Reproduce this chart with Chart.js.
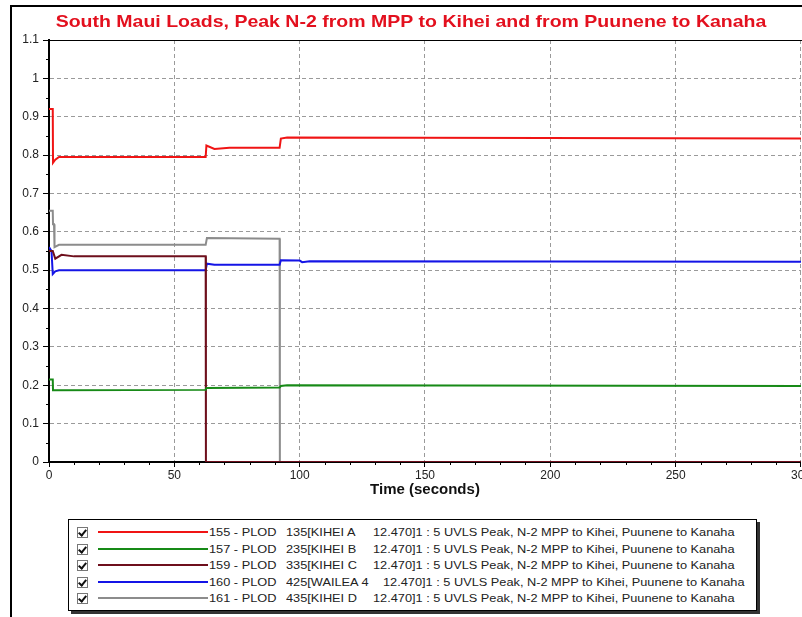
<!DOCTYPE html>
<html>
<head>
<meta charset="utf-8">
<title>South Maui Loads</title>
<script src="https://cdn.jsdelivr.net/npm/chart.js@4/dist/chart.umd.min.js"></script>
<style>
  html, body { margin: 0; padding: 0; background: #fff; overflow: hidden; width: 802px; height: 617px; }
  #frame { position: absolute; left: 10px; top: 5px; width: 900px; height: 700px;
           border-left: 2px solid #000; border-top: 2px solid #000; }
  #chart { position: absolute; left: 0; top: 0; }
  #legend { position: absolute; left: 68px; top: 519px; width: 687px; height: 86px;
            border: 1px solid #000; box-shadow: 3px 3px 0 #333; background: #fff;
            font: 11px "Liberation Sans", Arial, sans-serif; color: #222; padding-top: 4px; }
  .row { position: relative; height: 16.6px; line-height: 16.6px; white-space: pre; }
  .chk { position: absolute; left: 8px; top: 3px; width: 9px; height: 9px; border: 1px solid #777; background: #fff; }
  .chk::after { content: ""; position: absolute; left: 2px; top: 0px; width: 3px; height: 6px;
                border-right: 2px solid #111; border-bottom: 2px solid #111; transform: rotate(40deg); }
  .seg { position: absolute; left: 29px; top: 7px; width: 110px; height: 2px; }
  .c1, .c2, .c3 { position: absolute; transform: scaleX(1.16); transform-origin: 0 50%; }
  .c1 { left: 140px; }
  .c2 { left: 217px; }
  .c3 { left: 304px; }
</style>
</head>
<body>
<div id="frame"></div>
<canvas id="chart" width="812" height="500"></canvas>
<div id="legend"></div>
<script>
// Axis ticks
const xTicks = [0, 50, 100, 150, 200, 250, 300];
const yTicks = [0, 0.1, 0.2, 0.3, 0.4, 0.5, 0.6, 0.7, 0.8, 0.9, 1, 1.1];

// Series (time in seconds, load in p.u.)
const t155 = [0, 1.5, 1.6, 2.5, 4, 62.5, 62.8, 66, 72, 92, 92.5, 95, 300];
const v155 = [0.92, 0.92, 0.78, 0.788, 0.795, 0.795, 0.825, 0.816, 0.819, 0.819, 0.843, 0.846, 0.843];

const t157 = [0, 1.5, 1.6, 62.5, 62.8, 92, 92.5, 95, 300];
const v157 = [0.215, 0.215, 0.187, 0.188, 0.193, 0.194, 0.198, 0.2, 0.198];

const t159 = [0, 1.5, 2.5, 5, 10, 62.5, 62.6, 300];
const v159 = [0.55, 0.55, 0.53, 0.54, 0.536, 0.536, 0, 0];

const t160 = [0, 1, 1.5, 2.5, 4, 62.5, 63, 66, 92, 92.5, 100, 101, 104, 300];
const v160 = [0.56, 0.55, 0.49, 0.497, 0.5, 0.5, 0.517, 0.514, 0.514, 0.526, 0.525, 0.521, 0.523, 0.522];

const t161 = [0, 1.5, 1.6, 2, 2.2, 4, 62.5, 63, 92, 92.1, 300];
const v161 = [0.655, 0.655, 0.62, 0.62, 0.56, 0.566, 0.566, 0.584, 0.582, 0, 0];

const seriesIds = ['155 - PLOD', '157 - PLOD', '159 - PLOD', '160 - PLOD', '161 - PLOD'];
const seriesBuses = ['135[KIHEI A', '235[KIHEI B', '335[KIHEI C', '425[WAILEA 4', '435[KIHEI D'];
const seriesCase = '12.470]1 : 5 UVLS Peak, N-2 MPP to Kihei, Puunene to Kanaha';
const seriesColors = ['#f01414', '#178a17', '#6e0f1c', '#1414e6', '#8c8c8c'];
const seriesTimes = [t155, t157, t159, t160, t161];
const seriesValues = [v155, v157, v159, v160, v161];

const chartTitle = 'South Maui Loads, Peak N-2 from MPP to Kihei and from Puunene to Kanaha';

function toPoints(times, values) {
  return times.map((t, i) => ({ x: t, y: values[i] }));
}

// Title (slightly wide lettering), minor ticks, plot top border
const extrasPlugin = {
  id: 'extras',
  afterDraw(chart) {
    const ctx = chart.ctx;
    const area = chart.chartArea;
    const xs = chart.scales.x;
    const ys = chart.scales.y;
    ctx.save();
    ctx.fillStyle = '#e3101e';
    ctx.font = 'bold 17px "Liberation Sans", Arial, sans-serif';
    ctx.textAlign = 'center';
    ctx.textBaseline = 'middle';
    ctx.translate(411, 22);
    ctx.scale(1.147, 1);
    ctx.fillText(chartTitle, 0, 0);
    ctx.restore();

    ctx.save();
    ctx.strokeStyle = '#000';
    ctx.lineWidth = 1;
    ctx.beginPath();
    ctx.moveTo(area.left, area.top + 0.5);
    ctx.lineTo(area.right + 20, area.top + 0.5);
    for (let v = 10; v < 300; v += 10) {
      if (v % 50 === 0) continue;
      const px = Math.round(xs.getPixelForValue(v)) + 0.5;
      ctx.moveTo(px, area.bottom);
      ctx.lineTo(px, area.bottom + 3);
    }
    for (let k = 1; k < 22; k += 2) {
      const py = Math.round(ys.getPixelForValue(k * 0.05)) + 0.5;
      ctx.moveTo(area.left - 3, py);
      ctx.lineTo(area.left, py);
    }
    ctx.stroke();
    ctx.restore();
  }
};

const datasets = seriesIds.map((id, i) => ({
  label: id,
  data: toPoints(seriesTimes[i], seriesValues[i]),
  borderColor: seriesColors[i],
  borderWidth: 2,
  pointRadius: 0,
  tension: 0,
  fill: false,
}));

const tickFont = { family: '"Liberation Sans", Arial, sans-serif', size: 12 };

new Chart(document.getElementById('chart').getContext('2d'), {
  type: 'line',
  data: { datasets: datasets },
  plugins: [extrasPlugin],
  options: {
    responsive: false,
    animation: false,
    layout: { padding: { left: 0, right: 0, top: 40, bottom: 0 } },
    plugins: {
      legend: { display: false },
      tooltip: { enabled: false },
      title: { display: false },
    },
    scales: {
      x: {
        type: 'linear',
        min: 0,
        max: 300,
        afterBuildTicks: (scale) => { scale.ticks = xTicks.map((v) => ({ value: v })); },
        afterFit: (scale) => { scale.height = 38; },
        ticks: { font: tickFont, color: '#222', padding: 1, maxRotation: 0 },
        grid: {
          color: (c) => (c.tick && c.tick.value === 0 ? 'transparent' : '#9a9a9a'),
          lineWidth: 1,
          tickLength: 5,
          tickColor: '#000',
        },
        border: { display: true, color: '#000', width: 2, dash: [4, 3] },
        title: {
          display: true,
          text: 'Time (seconds)',
          color: '#111',
          font: { family: '"Liberation Sans", Arial, sans-serif', size: 15, weight: 'bold' },
          padding: { top: 0, bottom: 1 },
        },
      },
      y: {
        type: 'linear',
        min: 0,
        max: 1.1,
        afterBuildTicks: (scale) => { scale.ticks = yTicks.map((v) => ({ value: v })); },
        afterFit: (scale) => { scale.width = 49; },
        ticks: {
          font: tickFont,
          color: '#222',
          padding: 4,
          callback: (v) => String(Math.round(v * 10) / 10),
        },
        grid: {
          color: (c) => (c.tick && (c.tick.value === 0 || c.tick.value > 1.05) ? 'transparent' : '#9a9a9a'),
          lineWidth: 1,
          tickLength: 6,
          tickColor: '#000',
        },
        border: { display: true, color: '#000', width: 2, dash: [4, 3] },
      },
    },
  },
});

// Legend box
function buildLegend() {
  const box = document.getElementById('legend');
  seriesIds.forEach((id, i) => {
    const row = document.createElement('div');
    row.className = 'row';
    const c3Left = seriesBuses[i].indexOf('WAILEA') >= 0 ? 314 : 304;
    row.innerHTML =
      `<span class="chk"></span>` +
      `<span class="seg" style="background:${seriesColors[i]}"></span>` +
      `<span class="c1">${id}</span>` +
      `<span class="c2">${seriesBuses[i]}</span>` +
      `<span class="c3" style="left:${c3Left}px">${seriesCase}</span>`;
    box.appendChild(row);
  });
}
buildLegend();
</script>
</body>
</html>
